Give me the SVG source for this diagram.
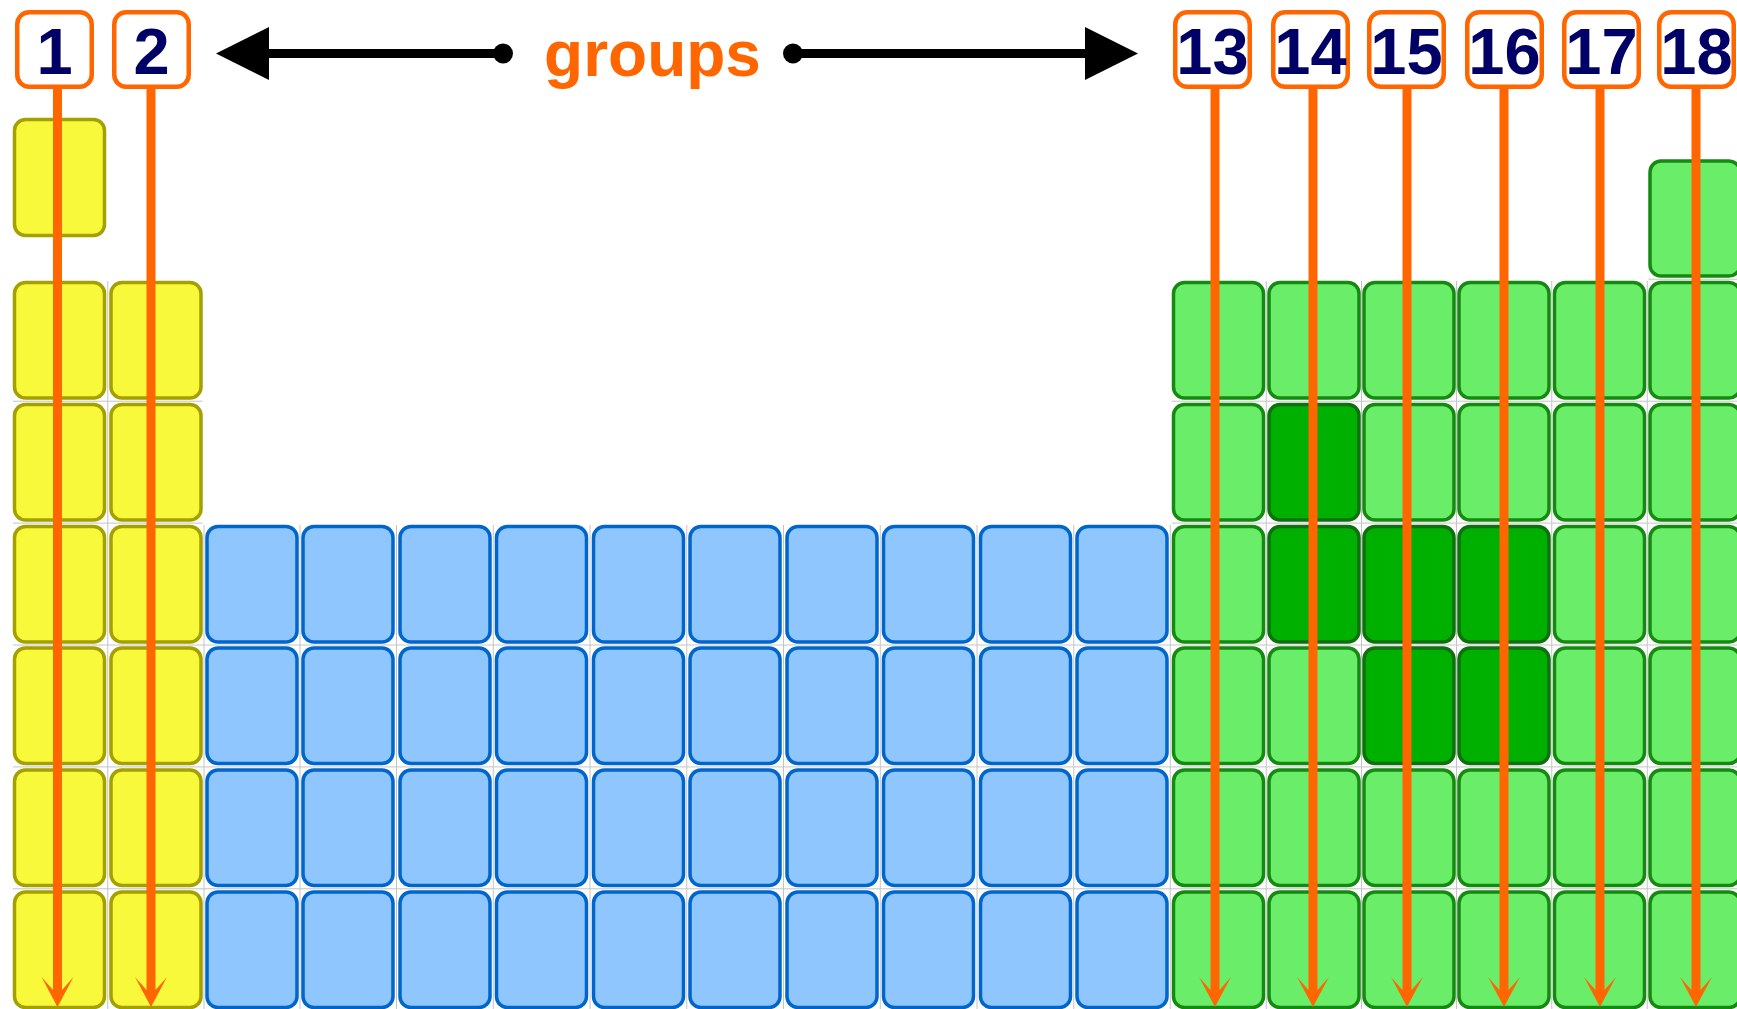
<svg xmlns="http://www.w3.org/2000/svg" width="1737" height="1009" viewBox="0 0 1737 1009">
  <style>
    .cell { stroke-width: 3.5; }
    .y { fill: #f9f93c; stroke: #a3a000; }
    .b { fill: #8ec6fd; stroke: #0066cc; }
    .g { fill: #6aee6a; stroke: #158a10; }
    .dg { fill: #00b000; stroke: #0f700f; }
    .gap { stroke: #c4c4c4; stroke-width: 1; fill: none; }
    .label-box { fill: #ffffff; stroke: #ff6600; stroke-width: 4.5; }
    .num { font-family: "Liberation Sans", Arial, sans-serif; font-weight: bold; font-size: 65px; fill: #000066; text-anchor: middle; }
    .title { font-family: "Liberation Sans", Arial, sans-serif; font-weight: bold; font-size: 64px; fill: #ff6600; text-anchor: middle; }
    .down { stroke: #ff6600; stroke-width: 9; fill: none; marker-end: url(#orangeHead); }
    .span { stroke: #000000; stroke-width: 9; fill: none; marker-start: url(#dot); marker-end: url(#blackHead); }
  </style>
  <defs>
    <marker id="orangeHead" markerUnits="userSpaceOnUse" viewBox="0 -17 31 34" markerWidth="31" markerHeight="34" refX="13" refY="0" orient="auto">
      <path d="M0,-16 L30,0 L0,16 L13,4.5 L13,-4.5 Z" fill="#ff6600"/>
    </marker>
    <marker id="blackHead" markerUnits="userSpaceOnUse" viewBox="0 -27 54 54" markerWidth="54" markerHeight="54" refX="1" refY="0" orient="auto">
      <path d="M0,-26.5 L53,0 L0,26.5 Z" fill="#000000"/>
    </marker>
    <marker id="dot" markerUnits="userSpaceOnUse" viewBox="-11 -11 22 22" markerWidth="22" markerHeight="22" refX="0" refY="0" orient="auto">
      <circle cx="0" cy="0" r="10" fill="#000000"/>
    </marker>
  </defs>

  <rect x="0" y="0" width="1737" height="1009" fill="#ffffff"/>

  <!-- thin rules showing in the gaps between neighbouring cells -->
  <g id="gap-rules">
    <path class="gap" d="M13,401.2 H202.5 M1172,401.2 H1737 M13,523.1 H202.5 M1172,523.1 H1737 M13,645 H1737 M13,766.9 H1737 M13,888.8 H1737 M1648.5,279.2 H1737"/>
    <path class="gap" d="M107.75,281 V1009 M204,525 V1009 M300,525 V1009 M396.5,525 V1009 M493.25,525 V1009 M590,525 V1009 M686.75,525 V1009 M783.5,525 V1009 M880.25,525 V1009 M977,525 V1009 M1073.75,525 V1009 M1170.25,525 V1009 M1266.25,281 V1009 M1361.5,281 V1009 M1456.5,281 V1009 M1551.75,281 V1009 M1647.25,281 V1009"/>
  </g>

  <!-- s-block: groups 1 and 2 -->
  <g id="s-block">
    <rect id="cell-1-1" class="cell y" x="14.5" y="119.5" width="90" height="116" rx="11"/>
    <rect id="cell-1-2" class="cell y" x="14.5" y="282.5" width="90" height="115.5" rx="11"/>
    <rect id="cell-1-3" class="cell y" x="14.5" y="404.5" width="90" height="115.5" rx="11"/>
    <rect id="cell-1-4" class="cell y" x="14.5" y="526.5" width="90" height="115.5" rx="11"/>
    <rect id="cell-1-5" class="cell y" x="14.5" y="648" width="90" height="115.5" rx="11"/>
    <rect id="cell-1-6" class="cell y" x="14.5" y="770" width="90" height="115.5" rx="11"/>
    <rect id="cell-1-7" class="cell y" x="14.5" y="892" width="90" height="115.5" rx="11"/>
    <rect id="cell-2-2" class="cell y" x="111" y="282.5" width="90" height="115.5" rx="11"/>
    <rect id="cell-2-3" class="cell y" x="111" y="404.5" width="90" height="115.5" rx="11"/>
    <rect id="cell-2-4" class="cell y" x="111" y="526.5" width="90" height="115.5" rx="11"/>
    <rect id="cell-2-5" class="cell y" x="111" y="648" width="90" height="115.5" rx="11"/>
    <rect id="cell-2-6" class="cell y" x="111" y="770" width="90" height="115.5" rx="11"/>
    <rect id="cell-2-7" class="cell y" x="111" y="892" width="90" height="115.5" rx="11"/>
  </g>

  <!-- d-block: groups 3 to 12 -->
  <g id="d-block">
    <rect id="cell-3-4" class="cell b" x="207" y="526.5" width="90" height="115.5" rx="11"/>
    <rect id="cell-3-5" class="cell b" x="207" y="648" width="90" height="115.5" rx="11"/>
    <rect id="cell-3-6" class="cell b" x="207" y="770" width="90" height="115.5" rx="11"/>
    <rect id="cell-3-7" class="cell b" x="207" y="892" width="90" height="115.5" rx="11"/>
    <rect id="cell-4-4" class="cell b" x="303" y="526.5" width="90" height="115.5" rx="11"/>
    <rect id="cell-4-5" class="cell b" x="303" y="648" width="90" height="115.5" rx="11"/>
    <rect id="cell-4-6" class="cell b" x="303" y="770" width="90" height="115.5" rx="11"/>
    <rect id="cell-4-7" class="cell b" x="303" y="892" width="90" height="115.5" rx="11"/>
    <rect id="cell-5-4" class="cell b" x="400" y="526.5" width="90" height="115.5" rx="11"/>
    <rect id="cell-5-5" class="cell b" x="400" y="648" width="90" height="115.5" rx="11"/>
    <rect id="cell-5-6" class="cell b" x="400" y="770" width="90" height="115.5" rx="11"/>
    <rect id="cell-5-7" class="cell b" x="400" y="892" width="90" height="115.5" rx="11"/>
    <rect id="cell-6-4" class="cell b" x="496.5" y="526.5" width="90" height="115.5" rx="11"/>
    <rect id="cell-6-5" class="cell b" x="496.5" y="648" width="90" height="115.5" rx="11"/>
    <rect id="cell-6-6" class="cell b" x="496.5" y="770" width="90" height="115.5" rx="11"/>
    <rect id="cell-6-7" class="cell b" x="496.5" y="892" width="90" height="115.5" rx="11"/>
    <rect id="cell-7-4" class="cell b" x="593.5" y="526.5" width="90" height="115.5" rx="11"/>
    <rect id="cell-7-5" class="cell b" x="593.5" y="648" width="90" height="115.5" rx="11"/>
    <rect id="cell-7-6" class="cell b" x="593.5" y="770" width="90" height="115.5" rx="11"/>
    <rect id="cell-7-7" class="cell b" x="593.5" y="892" width="90" height="115.5" rx="11"/>
    <rect id="cell-8-4" class="cell b" x="690" y="526.5" width="90" height="115.5" rx="11"/>
    <rect id="cell-8-5" class="cell b" x="690" y="648" width="90" height="115.5" rx="11"/>
    <rect id="cell-8-6" class="cell b" x="690" y="770" width="90" height="115.5" rx="11"/>
    <rect id="cell-8-7" class="cell b" x="690" y="892" width="90" height="115.5" rx="11"/>
    <rect id="cell-9-4" class="cell b" x="787" y="526.5" width="90" height="115.5" rx="11"/>
    <rect id="cell-9-5" class="cell b" x="787" y="648" width="90" height="115.5" rx="11"/>
    <rect id="cell-9-6" class="cell b" x="787" y="770" width="90" height="115.5" rx="11"/>
    <rect id="cell-9-7" class="cell b" x="787" y="892" width="90" height="115.5" rx="11"/>
    <rect id="cell-10-4" class="cell b" x="883.5" y="526.5" width="90" height="115.5" rx="11"/>
    <rect id="cell-10-5" class="cell b" x="883.5" y="648" width="90" height="115.5" rx="11"/>
    <rect id="cell-10-6" class="cell b" x="883.5" y="770" width="90" height="115.5" rx="11"/>
    <rect id="cell-10-7" class="cell b" x="883.5" y="892" width="90" height="115.5" rx="11"/>
    <rect id="cell-11-4" class="cell b" x="980.5" y="526.5" width="90" height="115.5" rx="11"/>
    <rect id="cell-11-5" class="cell b" x="980.5" y="648" width="90" height="115.5" rx="11"/>
    <rect id="cell-11-6" class="cell b" x="980.5" y="770" width="90" height="115.5" rx="11"/>
    <rect id="cell-11-7" class="cell b" x="980.5" y="892" width="90" height="115.5" rx="11"/>
    <rect id="cell-12-4" class="cell b" x="1077" y="526.5" width="90" height="115.5" rx="11"/>
    <rect id="cell-12-5" class="cell b" x="1077" y="648" width="90" height="115.5" rx="11"/>
    <rect id="cell-12-6" class="cell b" x="1077" y="770" width="90" height="115.5" rx="11"/>
    <rect id="cell-12-7" class="cell b" x="1077" y="892" width="90" height="115.5" rx="11"/>
  </g>

  <!-- p-block: groups 13 to 18 -->
  <g id="p-block">
    <rect id="cell-13-2" class="cell g" x="1173.5" y="282.5" width="90" height="115.5" rx="11"/>
    <rect id="cell-13-3" class="cell g" x="1173.5" y="404.5" width="90" height="115.5" rx="11"/>
    <rect id="cell-13-4" class="cell g" x="1173.5" y="526.5" width="90" height="115.5" rx="11"/>
    <rect id="cell-13-5" class="cell g" x="1173.5" y="648" width="90" height="115.5" rx="11"/>
    <rect id="cell-13-6" class="cell g" x="1173.5" y="770" width="90" height="115.5" rx="11"/>
    <rect id="cell-13-7" class="cell g" x="1173.5" y="892" width="90" height="115.5" rx="11"/>
    <rect id="cell-14-2" class="cell g" x="1269" y="282.5" width="90" height="115.5" rx="11"/>
    <rect id="cell-14-3" class="cell dg" x="1269" y="404.5" width="90" height="115.5" rx="11"/>
    <rect id="cell-14-4" class="cell dg" x="1269" y="526.5" width="90" height="115.5" rx="11"/>
    <rect id="cell-14-5" class="cell g" x="1269" y="648" width="90" height="115.5" rx="11"/>
    <rect id="cell-14-6" class="cell g" x="1269" y="770" width="90" height="115.5" rx="11"/>
    <rect id="cell-14-7" class="cell g" x="1269" y="892" width="90" height="115.5" rx="11"/>
    <rect id="cell-15-2" class="cell g" x="1364" y="282.5" width="90" height="115.5" rx="11"/>
    <rect id="cell-15-3" class="cell g" x="1364" y="404.5" width="90" height="115.5" rx="11"/>
    <rect id="cell-15-4" class="cell dg" x="1364" y="526.5" width="90" height="115.5" rx="11"/>
    <rect id="cell-15-5" class="cell dg" x="1364" y="648" width="90" height="115.5" rx="11"/>
    <rect id="cell-15-6" class="cell g" x="1364" y="770" width="90" height="115.5" rx="11"/>
    <rect id="cell-15-7" class="cell g" x="1364" y="892" width="90" height="115.5" rx="11"/>
    <rect id="cell-16-2" class="cell g" x="1459" y="282.5" width="90" height="115.5" rx="11"/>
    <rect id="cell-16-3" class="cell g" x="1459" y="404.5" width="90" height="115.5" rx="11"/>
    <rect id="cell-16-4" class="cell dg" x="1459" y="526.5" width="90" height="115.5" rx="11"/>
    <rect id="cell-16-5" class="cell dg" x="1459" y="648" width="90" height="115.5" rx="11"/>
    <rect id="cell-16-6" class="cell g" x="1459" y="770" width="90" height="115.5" rx="11"/>
    <rect id="cell-16-7" class="cell g" x="1459" y="892" width="90" height="115.5" rx="11"/>
    <rect id="cell-17-2" class="cell g" x="1554.5" y="282.5" width="90" height="115.5" rx="11"/>
    <rect id="cell-17-3" class="cell g" x="1554.5" y="404.5" width="90" height="115.5" rx="11"/>
    <rect id="cell-17-4" class="cell g" x="1554.5" y="526.5" width="90" height="115.5" rx="11"/>
    <rect id="cell-17-5" class="cell g" x="1554.5" y="648" width="90" height="115.5" rx="11"/>
    <rect id="cell-17-6" class="cell g" x="1554.5" y="770" width="90" height="115.5" rx="11"/>
    <rect id="cell-17-7" class="cell g" x="1554.5" y="892" width="90" height="115.5" rx="11"/>
    <rect id="cell-18-1" class="cell g" x="1650" y="161" width="90" height="115" rx="11"/>
    <rect id="cell-18-2" class="cell g" x="1650" y="282.5" width="90" height="115.5" rx="11"/>
    <rect id="cell-18-3" class="cell g" x="1650" y="404.5" width="90" height="115.5" rx="11"/>
    <rect id="cell-18-4" class="cell g" x="1650" y="526.5" width="90" height="115.5" rx="11"/>
    <rect id="cell-18-5" class="cell g" x="1650" y="648" width="90" height="115.5" rx="11"/>
    <rect id="cell-18-6" class="cell g" x="1650" y="770" width="90" height="115.5" rx="11"/>
    <rect id="cell-18-7" class="cell g" x="1650" y="892" width="90" height="115.5" rx="11"/>
  </g>

  <!-- connectors: group columns and the two-way span arrows -->
  <g id="connectors">
    <path class="down" d="M57.5,86 V990"/>
    <path class="down" d="M151,86 V990"/>
    <path class="down" d="M1215,86 V990"/>
    <path class="down" d="M1313,86 V990"/>
    <path class="down" d="M1407,86 V990"/>
    <path class="down" d="M1504,86 V990"/>
    <path class="down" d="M1600,86 V990"/>
    <path class="down" d="M1696,86 V990"/>
    <path class="span" d="M503,53.5 H268"/>
    <path class="span" d="M793,53.5 H1086"/>
  </g>

  <!-- group number labels -->
  <g id="label-1"><rect class="label-box" x="17.25" y="12.25" width="74.5" height="74.5" rx="12"/><text class="num" x="54.5" y="74">1</text></g>
  <g id="label-2"><rect class="label-box" x="114.25" y="12.25" width="74.5" height="74.5" rx="12"/><text class="num" x="151.5" y="74">2</text></g>
  <g id="label-13"><rect class="label-box" x="1175.25" y="12.25" width="74.5" height="74.5" rx="12"/><text class="num" x="1212.5" y="74">13</text></g>
  <g id="label-14"><rect class="label-box" x="1273.25" y="12.25" width="74.5" height="74.5" rx="12"/><text class="num" x="1310.5" y="74">14</text></g>
  <g id="label-15"><rect class="label-box" x="1369.25" y="12.25" width="74.5" height="74.5" rx="12"/><text class="num" x="1406.5" y="74">15</text></g>
  <g id="label-16"><rect class="label-box" x="1467.25" y="12.25" width="74.5" height="74.5" rx="12"/><text class="num" x="1504.5" y="74">16</text></g>
  <g id="label-17"><rect class="label-box" x="1564.25" y="12.25" width="74.5" height="74.5" rx="12"/><text class="num" x="1601.5" y="74">17</text></g>
  <g id="label-18"><rect class="label-box" x="1659.25" y="12.25" width="74.5" height="74.5" rx="12"/><text class="num" x="1696.5" y="74">18</text></g>

  <g id="groups-title"><text class="title" x="652.5" y="76">groups</text></g>
</svg>
